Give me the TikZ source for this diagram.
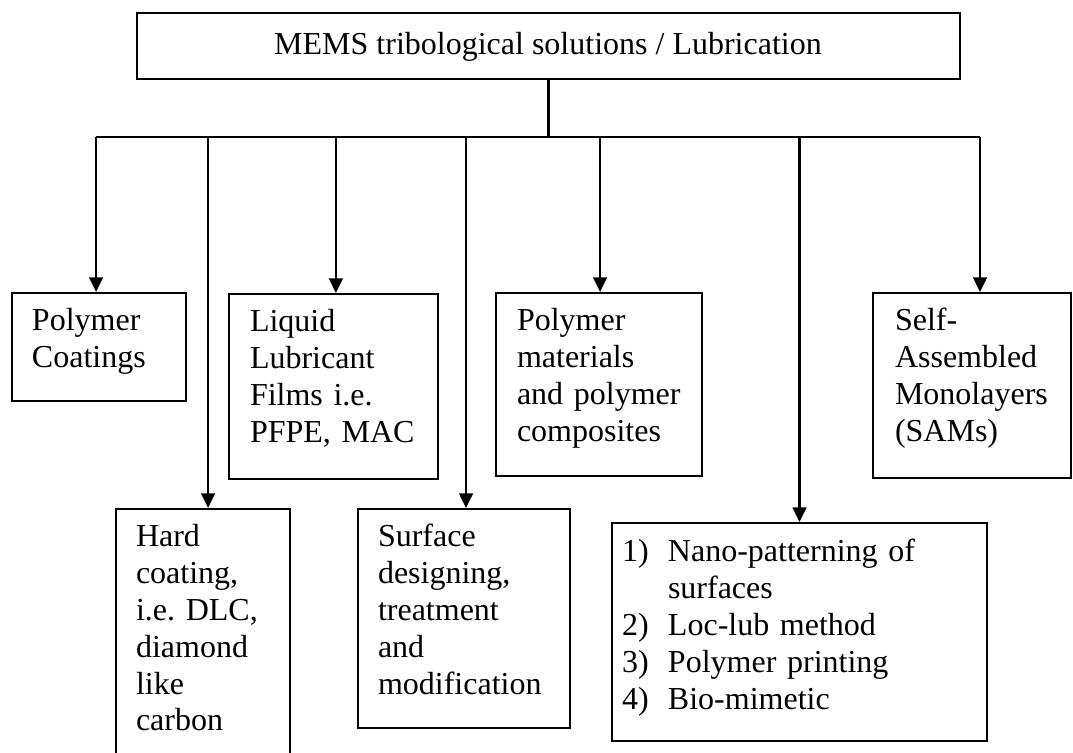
\documentclass[tikz,border=0pt]{standalone}
\usepackage{fontspec}
\setmainfont{Liberation Serif}
\usetikzlibrary{arrows.meta,positioning,fit}
\tikzstyle{frame} = [rectangle, draw, line width=0.8pt, inner sep=0pt]
\tikzstyle{boxtext} = [anchor=base west, inner sep=0pt, text width=20em, align=left]
\tikzset{
    every node/.style={font=\fontsize{12}{13.8}\selectfont}
}
\newcommand{\listnum}[1]{\makebox[17.25pt][l]{#1}}
\frenchspacing

\begin{document}
\begin{tikzpicture}[x=0.375pt, y=-0.375pt, line width=0.8pt,
        >={Triangle[length=5.5pt,width=5.2pt]}]
            \useasboundingbox (0,0) rectangle (1073,752);
            \clip (0,0) rectangle (1073,752);

            % Place boxes
            \node [frame, fit={(137,13) (960,79)}] (top) {};
            \node [frame, fit={(12,293) (186,401)}] (coat) {};
            \node [frame, fit={(116,509) (290,800)}] (hard) {};
            \node [frame, fit={(229,294) (438,479)}] (liquid) {};
            \node [frame, fit={(358,509) (570,728)}] (surface) {};
            \node [frame, fit={(496,293) (702,476)}] (polymat) {};
            \node [frame, fit={(612,523) (987,741)}] (nano) {};
            \node [frame, fit={(873,293) (1071,478)}] (sams) {};

            % Box texts
            \node [anchor=base, inner sep=0pt] (toptext) at (548,54) {MEMS tribological solutions / Lubrication};
            \node [boxtext] (coattext) at ([shift={(20,39)}]coat.north west) {Polymer\\Coatings};
            \node [boxtext] (hardtext) at ([shift={(20,39)}]hard.north west) {Hard\\coating,\\i.e. DLC,\\diamond\\like\\carbon};
            \node [boxtext] (liquidtext) at ([shift={(21,39)}]liquid.north west) {Liquid\\Lubricant\\Films i.e.\\PFPE, MAC};
            \node [boxtext] (surfacetext) at ([shift={(20,39)}]surface.north west) {Surface\\designing,\\treatment\\and\\modification};
            \node [boxtext] (polymattext) at ([shift={(21,39)}]polymat.north west) {Polymer\\materials\\and polymer\\composites};
            \node [boxtext] (nanotext) at ([shift={(10,40)}]nano.north west) {\listnum{1)}Nano-patterning of\\
                \hspace*{17.25pt}surfaces\\
                \listnum{2)}Loc-lub method\\
                \listnum{3)}Polymer printing\\
                \listnum{4)}Bio-mimetic};
            \node [boxtext] (samstext) at ([shift={(22,39)}]sams.north west) {Self-\\Assembled\\Monolayers\\(SAMs)};

            % Connect boxes
            \coordinate (bus) at (548,137);
            \draw (top.south) -- (top.south |- bus);
            \draw ([xshift=-1.1pt]coat.north |- bus) -- ([xshift=3pt]sams.north |- bus);
            \foreach \n/\dx in {coat/-1.1, hard/1.9, liquid/0.9, surface/0.75, polymat/0.4, nano/0, sams/3}
                \draw [->] ([xshift=\dx pt]\n.north |- bus) -- ([xshift=\dx pt]\n.north);
\end{tikzpicture}
\end{document}
